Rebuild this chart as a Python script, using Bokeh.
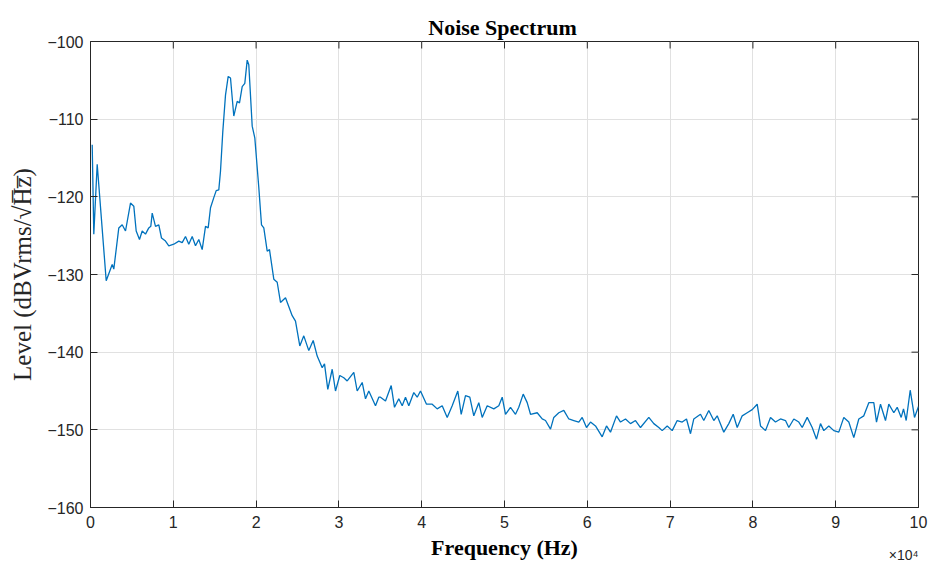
import numpy as np
from bokeh.plotting import figure
from bokeh.models import FixedTicker, Label, Range1d, ColumnDataSource
from bokeh.embed import file_html
from bokeh.resources import INLINE

# ---- data (Hz, dBVrms/sqrt(Hz)) ----
freq_hz = [205, 399, 809, 1896, 2621, 2814, 3418, 3828, 4227, 4831, 5229, 5519, 5918, 6244,
           6642, 7041, 7283, 7452, 7850, 8249, 8575, 9058, 9456, 10060, 10664, 11075, 11473,
           11872, 12282, 12681, 13079, 13490, 13889, 14214, 14493, 14891, 15181, 15495, 15700,
           15978, 16304, 16630, 16908, 17306, 17717, 17995, 18321, 18635, 18925, 19118, 19529,
           19843, 20326, 20652, 20930, 21341, 21618, 22138, 22548, 22947, 23551, 24360, 24758,
           25277, 25760, 26364, 26896, 27379, 27983, 28261, 28659, 29191, 29589, 30108, 30591,
           31002, 31799, 32210, 32814, 33213, 33613, 34420, 34819,
           35024, 35628, 36316, 36715, 37234, 37645, 38043, 38442, 39046, 39457, 39855, 40580,
           41268, 41872, 42476, 43080, 43684, 44360, 44771, 45290, 45809, 46292, 46896, 47307,
           47911, 48708, 49312, 49722, 50121, 50725, 51329, 51727, 52258, 52741, 53140, 53949,
           54553, 54951, 55556, 55954, 56558, 57162, 57766, 58370, 58974, 59384, 59903, 60386,
           60990, 61800, 62319, 62802, 63527, 64010, 64614, 65217, 65821, 66425, 67428, 68032,
           68635, 69046, 69650, 70254, 70858, 71462, 71981, 72464, 72862, 73671, 74070, 74674,
           75278, 75688, 76486, 77089, 77621, 78104, 78708, 79312, 79916, 80519, 80918, 81522,
           82126, 82729, 83333, 83937, 84336, 84940, 85543, 85954, 86558, 87162, 87681, 88164,
           88563, 89167, 89771, 90375, 90979, 91582, 92186, 92790, 93394, 93998, 94602, 94928,
           95411, 96014, 96413, 97017, 97428, 97911, 98188, 98514, 98998, 99517, 100000]
level_db = [-113.3, -124.8, -115.8, -130.8, -128.7, -129.3, -124.0, -123.6, -124.4, -120.8,
            -121.2, -124.4, -125.5, -124.4, -124.8, -124.0, -123.8, -122.1, -123.8, -123.6,
            -125.3, -125.7, -126.3, -126.1, -125.7, -125.9, -125.1, -126.1, -125.1, -126.3,
            -125.5, -126.8, -123.8, -124.0, -121.4, -120.1, -119.2, -119.1, -116.7, -111.6,
            -106.9, -104.5, -104.7, -109.6, -107.7, -107.9, -105.8, -105.4, -102.4, -103.0,
            -110.9, -112.4, -118.8, -123.6, -124.0, -127.0, -126.8, -130.6, -131.0, -133.6,
            -133.0, -135.3, -136.0, -139.2, -137.9, -139.8, -138.5, -140.5, -142.0, -141.5,
            -144.8, -142.2, -145.0, -143.0, -143.3, -143.7, -142.6, -145.0, -143.9, -146.0,
            -145.0, -146.9, -145.8,
            -145.8, -146.3, -144.3, -147.1, -146.0, -146.9, -145.8, -146.9, -145.2, -145.8,
            -145.0, -146.7, -146.7, -147.3, -146.9, -148.4, -146.9, -145.0, -148.0, -145.6,
            -145.8, -148.2, -146.5, -148.4, -146.9, -147.3, -146.9, -145.8, -148.0, -147.1,
            -148.0, -147.1, -145.4, -146.5, -148.0, -147.8, -148.6, -148.8, -149.9, -148.4,
            -147.8, -147.5, -148.6, -148.8, -149.0, -148.4, -149.7, -149.0,
            -149.5, -150.9, -149.5, -150.3, -148.2, -149.0, -148.6, -149.2, -148.8, -149.7,
            -148.4, -149.2, -149.7, -150.1, -149.5, -150.1, -148.8, -149.0, -148.6, -150.5,
            -148.6, -148.0, -148.8, -147.5, -148.8, -148.2, -150.3, -149.2, -148.0, -149.7,
            -148.2, -147.8, -147.4, -146.7, -149.5, -150.1, -148.4, -149.0, -148.6, -148.8,
            -149.7, -148.6, -149.0, -149.7, -148.4, -149.7, -151.2, -149.2, -150.1, -149.5,
            -150.1, -150.3, -148.4, -149.0, -151.0, -148.6, -148.2, -146.5, -146.5, -149.0,
            -146.7, -148.8, -146.7, -147.8, -147.1, -148.4, -147.3, -148.8, -144.9, -148.4,
            -147.0]

x_ticks = [0, 10000, 20000, 30000, 40000, 50000, 60000, 70000, 80000, 90000, 100000]
x_tick_labels = ["0", "1", "2", "3", "4", "5", "6", "7", "8", "9", "10"]
y_ticks = [-160, -150, -140, -130, -120, -110, -100]
y_tick_labels = ["\u2212160", "\u2212150", "\u2212140", "\u2212130", "\u2212120", "\u2212110", "\u2212100"]

title_text = "Noise Spectrum"
xlabel_text = "Frequency (Hz)"
ylabel_text = "Level (dBVrms/\u221aH\u0305z\u0305)"
exponent_text = "\u00d710\u2074"

AX = "#262626"

x_min, x_max = x_ticks[0], x_ticks[-1]
y_min, y_max = y_ticks[0], y_ticks[-1]

p = figure(width=929, height=562, output_backend="svg", toolbar_location=None, title=None,
           x_range=Range1d(x_min, x_max), y_range=Range1d(y_min, y_max),
           min_border_left=90, min_border_right=11, min_border_top=40, min_border_bottom=55,
           background_fill_color="white", border_fill_color="white")
p.outline_line_color = AX
p.outline_line_width = 1

p.xgrid.ticker = FixedTicker(ticks=x_ticks)
p.ygrid.ticker = FixedTicker(ticks=y_ticks)
p.xgrid.grid_line_color = "#e1e1e1"
p.ygrid.grid_line_color = "#e1e1e1"

src = ColumnDataSource(dict(f=freq_hz, lv=level_db))
p.line("f", "lv", source=src, line_color="#0072BD", line_width=1.3)

# inward ticks on the top and right edges (half of each dash is clipped by the frame)
p.scatter(x=x_ticks, y=[y_max] * len(x_ticks), marker="dash", size=14, angle=np.pi / 2,
          line_color=AX, line_width=1)
p.scatter(x=[x_max] * len(y_ticks), y=y_ticks, marker="dash", size=14,
          line_color=AX, line_width=1)

def style_axis(ax, ticks, labels):
    ax.ticker = FixedTicker(ticks=ticks)
    ax.major_label_overrides = {t: l for t, l in zip(ticks, labels)}
    ax.major_tick_in = 7
    ax.major_tick_out = 0
    ax.minor_tick_in = 0
    ax.minor_tick_out = 0
    ax.axis_line_color = AX
    ax.major_tick_line_color = AX
    ax.major_label_text_font = "Liberation Sans"
    ax.major_label_text_color = AX
    ax.major_label_text_font_size = "16px"

xa = p.xaxis[0]
style_axis(xa, x_ticks, x_tick_labels)
xa.major_label_standoff = 8
xa.axis_label = xlabel_text
xa.axis_label_text_font = "Liberation Serif"
xa.axis_label_text_font_style = "bold"
xa.axis_label_text_font_size = "22px"
xa.axis_label_text_color = "black"
xa.axis_label_standoff = 4

ya = p.yaxis[0]
style_axis(ya, y_ticks, y_tick_labels)
ya.major_label_standoff = 7
ya.axis_label = ylabel_text
ya.axis_label_text_font = "Liberation Serif"
ya.axis_label_text_font_style = "normal"
ya.axis_label_text_font_size = "25px"
ya.axis_label_text_color = AX
ya.axis_label_standoff = 8

# Title and the "x10^4" multiplier are drawn from panels above the frame
# (screen units relative to each panel: x from frame left, y up from panel bottom).
p.add_layout(Label(x=412, y=14, x_units="screen", y_units="screen", text=title_text,
                   text_align="center", text_baseline="alphabetic", text_font="Liberation Serif",
                   text_font_style="bold", text_font_size="22px", text_color="black"), "above")
p.add_layout(Label(x=828, y=-538, x_units="screen", y_units="screen", text=exponent_text,
                   text_align="right", text_baseline="alphabetic", text_font="Liberation Sans",
                   text_font_size="14px", text_color=AX), "above")

open("out.html", "w").write(file_html(p, INLINE))
